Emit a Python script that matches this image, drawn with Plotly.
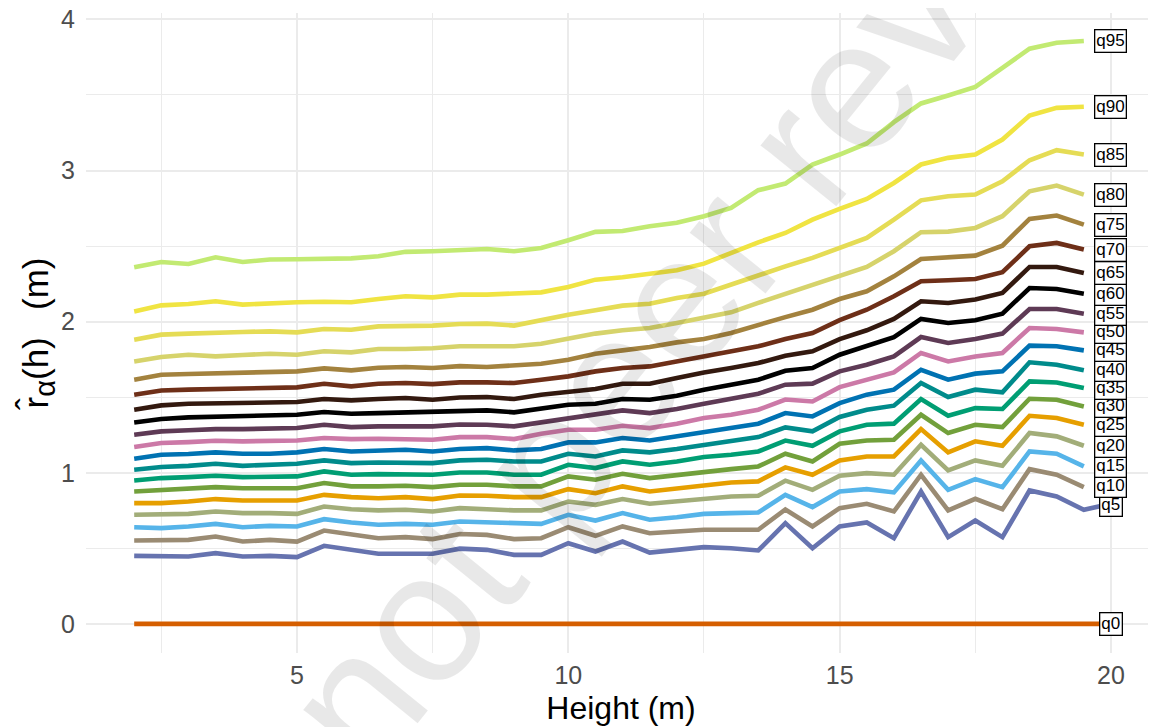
import plotly.graph_objects as go

# ---------------- data ----------------
heights = [2.0, 2.5, 3.0, 3.5, 4.0, 4.5, 5.0, 5.5, 6.0, 6.5, 7.0, 7.5, 8.0, 8.5, 9.0, 9.5,
           10.0, 10.5, 11.0, 11.5, 12.0, 12.5, 13.0, 13.5, 14.0, 14.5, 15.0, 15.5, 16.0,
           16.5, 17.0, 17.5, 18.0, 18.5, 19.0, 19.5, 20.0]

q0 = [0, 0, 0, 0, 0, 0, 0, 0, 0, 0, 0, 0, 0, 0, 0, 0, 0, 0, 0, 0, 0, 0, 0, 0, 0, 0,
      0, 0, 0, 0, 0, 0, 0, 0, 0, 0, 0]
q5 = [0.450, 0.450, 0.446, 0.468, 0.446, 0.450, 0.442, 0.517, 0.490, 0.464, 0.464, 0.464, 0.498,
      0.490, 0.457, 0.457, 0.534, 0.479, 0.545, 0.472, 0.490, 0.508, 0.501, 0.486, 0.667,
      0.501, 0.645, 0.671, 0.567, 0.876, 0.574, 0.684, 0.574, 0.883, 0.843, 0.755, 0.795]
q10 = [0.552, 0.552, 0.556, 0.578, 0.545, 0.556, 0.545, 0.618, 0.589, 0.567, 0.574, 0.561, 0.595,
       0.589, 0.561, 0.567, 0.640, 0.583, 0.645, 0.600, 0.611, 0.623, 0.623, 0.623, 0.757,
       0.645, 0.766, 0.795, 0.744, 0.987, 0.751, 0.828, 0.759, 1.024, 0.987, 0.905]
q15 = [0.640, 0.634, 0.645, 0.662, 0.640, 0.649, 0.645, 0.693, 0.671, 0.656, 0.662, 0.656, 0.678,
       0.671, 0.662, 0.662, 0.722, 0.684, 0.733, 0.689, 0.706, 0.728, 0.733, 0.737, 0.854,
       0.773, 0.876, 0.892, 0.870, 1.082, 0.887, 0.958, 0.905, 1.141, 1.126, 1.042]
q20 = [0.722, 0.722, 0.728, 0.744, 0.733, 0.733, 0.728, 0.777, 0.759, 0.751, 0.755, 0.744, 0.766,
       0.759, 0.751, 0.751, 0.810, 0.788, 0.826, 0.795, 0.810, 0.832, 0.843, 0.848, 0.948,
       0.887, 0.980, 0.998, 0.987, 1.185, 1.016, 1.082, 1.046, 1.263, 1.241, 1.179]
q25 = [0.799, 0.799, 0.810, 0.826, 0.817, 0.817, 0.817, 0.854, 0.839, 0.832, 0.839, 0.826, 0.850,
       0.848, 0.839, 0.839, 0.892, 0.865, 0.910, 0.876, 0.898, 0.921, 0.936, 0.943, 1.036,
       0.987, 1.082, 1.108, 1.108, 1.289, 1.135, 1.208, 1.179, 1.377, 1.362, 1.318]
q30 = [0.876, 0.887, 0.892, 0.905, 0.898, 0.898, 0.898, 0.932, 0.910, 0.910, 0.914, 0.905, 0.921,
       0.921, 0.910, 0.910, 0.976, 0.954, 0.993, 0.965, 0.987, 1.009, 1.024, 1.042, 1.126,
       1.075, 1.192, 1.214, 1.219, 1.384, 1.263, 1.318, 1.302, 1.490, 1.483, 1.439]
q35 = [0.949, 0.965, 0.971, 0.980, 0.971, 0.971, 0.976, 1.009, 0.987, 0.991, 0.991, 0.987, 1.002,
       1.002, 0.987, 0.987, 1.053, 1.031, 1.075, 1.053, 1.075, 1.104, 1.119, 1.141, 1.213,
       1.179, 1.274, 1.318, 1.325, 1.488, 1.377, 1.428, 1.422, 1.605, 1.598, 1.561]
q40 = [1.020, 1.038, 1.046, 1.060, 1.046, 1.053, 1.060, 1.082, 1.064, 1.068, 1.068, 1.064, 1.082,
       1.086, 1.075, 1.075, 1.126, 1.108, 1.148, 1.135, 1.157, 1.185, 1.208, 1.236, 1.300,
       1.274, 1.369, 1.417, 1.444, 1.594, 1.501, 1.550, 1.532, 1.731, 1.715, 1.678]
q45 = [1.093, 1.119, 1.124, 1.135, 1.126, 1.126, 1.135, 1.157, 1.141, 1.148, 1.152, 1.141, 1.157,
       1.163, 1.148, 1.157, 1.201, 1.201, 1.230, 1.214, 1.241, 1.274, 1.296, 1.325, 1.395,
       1.373, 1.461, 1.517, 1.550, 1.682, 1.616, 1.656, 1.671, 1.841, 1.837, 1.810]
q50 = [1.170, 1.197, 1.203, 1.212, 1.208, 1.208, 1.214, 1.230, 1.223, 1.225, 1.223, 1.219, 1.236,
       1.236, 1.223, 1.258, 1.285, 1.285, 1.311, 1.296, 1.325, 1.362, 1.384, 1.417, 1.485,
       1.472, 1.567, 1.616, 1.664, 1.793, 1.737, 1.770, 1.793, 1.958, 1.951, 1.929]
q55 = [1.252, 1.274, 1.281, 1.289, 1.289, 1.291, 1.296, 1.318, 1.302, 1.307, 1.307, 1.307, 1.320,
       1.318, 1.307, 1.333, 1.362, 1.384, 1.413, 1.395, 1.422, 1.457, 1.488, 1.523, 1.583,
       1.590, 1.671, 1.715, 1.770, 1.898, 1.859, 1.885, 1.921, 2.084, 2.084, 2.053]
q60 = [1.333, 1.356, 1.367, 1.373, 1.377, 1.382, 1.384, 1.402, 1.391, 1.395, 1.400, 1.400, 1.410,
       1.413, 1.400, 1.428, 1.450, 1.457, 1.488, 1.483, 1.510, 1.550, 1.583, 1.616, 1.675,
       1.693, 1.781, 1.837, 1.898, 2.018, 1.991, 2.009, 2.053, 2.223, 2.216, 2.185]
q65 = [1.417, 1.446, 1.457, 1.461, 1.461, 1.466, 1.468, 1.488, 1.479, 1.488, 1.495, 1.483, 1.498,
       1.501, 1.488, 1.517, 1.539, 1.554, 1.589, 1.589, 1.627, 1.664, 1.693, 1.726, 1.775,
       1.804, 1.885, 1.943, 2.018, 2.135, 2.124, 2.146, 2.190, 2.362, 2.362, 2.322]
q70 = [1.517, 1.545, 1.550, 1.554, 1.554, 1.559, 1.565, 1.589, 1.572, 1.589, 1.594, 1.587, 1.598,
       1.598, 1.594, 1.616, 1.638, 1.671, 1.693, 1.704, 1.737, 1.775, 1.804, 1.837, 1.885,
       1.925, 2.010, 2.079, 2.168, 2.267, 2.274, 2.282, 2.327, 2.499, 2.521, 2.477]
q75 = [1.616, 1.649, 1.654, 1.660, 1.660, 1.669, 1.671, 1.691, 1.678, 1.695, 1.700, 1.693, 1.706,
       1.700, 1.709, 1.722, 1.748, 1.788, 1.810, 1.832, 1.863, 1.885, 1.925, 1.980, 2.030,
       2.079, 2.150, 2.201, 2.300, 2.415, 2.426, 2.437, 2.503, 2.680, 2.702, 2.642]
q80 = [1.737, 1.766, 1.781, 1.770, 1.779, 1.788, 1.781, 1.804, 1.797, 1.819, 1.819, 1.824, 1.837,
       1.837, 1.837, 1.854, 1.885, 1.921, 1.943, 1.958, 1.991, 2.024, 2.062, 2.124, 2.185,
       2.245, 2.300, 2.362, 2.466, 2.592, 2.596, 2.620, 2.698, 2.863, 2.901, 2.841]
q85 = [1.881, 1.914, 1.921, 1.929, 1.932, 1.936, 1.929, 1.951, 1.947, 1.969, 1.969, 1.974, 1.985,
       1.987, 1.974, 2.013, 2.046, 2.075, 2.106, 2.119, 2.157, 2.185, 2.245, 2.311, 2.366,
       2.422, 2.488, 2.554, 2.675, 2.803, 2.830, 2.841, 2.929, 3.068, 3.135, 3.106]
q90 = [2.068, 2.108, 2.117, 2.135, 2.113, 2.124, 2.128, 2.132, 2.128, 2.150, 2.168, 2.161, 2.179,
       2.179, 2.183, 2.194, 2.230, 2.278, 2.294, 2.318, 2.340, 2.384, 2.455, 2.525, 2.587,
       2.675, 2.746, 2.812, 2.918, 3.040, 3.084, 3.106, 3.205, 3.364, 3.415, 3.422]
q95 = [2.360, 2.395, 2.382, 2.426, 2.395, 2.411, 2.413, 2.419, 2.419, 2.433, 2.462, 2.466, 2.472,
       2.481, 2.466, 2.488, 2.539, 2.594, 2.600, 2.631, 2.654, 2.698, 2.753, 2.870, 2.914,
       3.040, 3.106, 3.179, 3.320, 3.444, 3.497, 3.554, 3.680, 3.806, 3.846, 3.857]

series_names = ["q0", "q5", "q10", "q15", "q20", "q25", "q30", "q35", "q40", "q45", "q50",
                "q55", "q60", "q65", "q70", "q75", "q80", "q85", "q90", "q95"]
series_values = [q0, q5, q10, q15, q20, q25, q30, q35, q40, q45, q50,
                 q55, q60, q65, q70, q75, q80, q85, q90, q95]
colors = ["#D55E00", "#6673AF", "#9A8B73", "#56B4E9", "#A2AD79", "#E69F00", "#72A03B",
          "#009E73", "#008B8B", "#0072B2", "#CC79A7", "#5E3A55", "#000000", "#33190F",
          "#6E2F18", "#A3823E", "#D6D36B", "#E5DC55", "#F0E442", "#C2EA72"]

x_ticks = [5, 10, 15, 20]
y_ticks = [0, 1, 2, 3, 4]
label_x = 20.0

# ---------------- figure ----------------
fig = go.Figure()
for name, vals, col in zip(series_names, series_values, colors):
    fig.add_trace(go.Scatter(x=heights[:len(vals)], y=vals, mode="lines", name=name,
                             line=dict(color=col, width=4.6), showlegend=False,
                             hoverinfo="skip"))

# simple label repel (isotonic spacing) in data units
ends = [(vals[-1], name) for name, vals in zip(series_names, series_values)]
ends.sort()
gap = 0.12
z = [v - i * gap for i, (v, _) in enumerate(ends)]
blocks = []  # [sum, count]
for val in z:
    blocks.append([val, 1])
    while len(blocks) > 1 and blocks[-2][0] / blocks[-2][1] > blocks[-1][0] / blocks[-1][1]:
        s, c = blocks.pop()
        blocks[-1][0] += s
        blocks[-1][1] += c
zfit = []
for s, c in blocks:
    zfit += [s / c] * c
label_pos = {name: zfit[i] + i * gap for i, (_, name) in enumerate(ends)}
label_pos["q0"] = 0.0

annotations = []
for name in series_names:
    annotations.append(dict(x=label_x, y=label_pos[name], xref="x", yref="y", text=name,
                            showarrow=False, xanchor="center", yanchor="middle",
                            font=dict(family="Liberation Sans, Arial", size=17, color="black"),
                            bgcolor="white", bordercolor="black", borderwidth=1.3,
                            borderpad=1))

# watermark
annotations.append(dict(x=0.650, y=0.752, xref="paper", yref="paper",
                        text="not peer reviewed", showarrow=False, textangle=-51,
                        xanchor="center", yanchor="middle",
                        font=dict(family="Liberation Sans, Arial", size=184,
                                  color="rgba(0,0,0,0.09)")))

grid = "#ebebeb"
fig.update_layout(
    width=1156, height=727,
    margin=dict(l=78, r=8, t=5, b=82),
    paper_bgcolor="white", plot_bgcolor="white",
    font=dict(family="Liberation Sans, Arial", color="#4d4d4d"),
    annotations=annotations,
    xaxis=dict(range=[1.112, 20.83], tickvals=x_ticks, showgrid=True, gridcolor=grid,
               gridwidth=1.6, zeroline=False, showline=False,
               ticks="outside", ticklen=0, tickcolor="rgba(0,0,0,0)",
               tickfont=dict(size=25, color="#4d4d4d"), ticklabeloverflow="allow",
               minor=dict(dtick=2.5, tick0=0, showgrid=True, gridcolor=grid, gridwidth=0.8),
               title=dict(text="Height (m)", font=dict(size=32, color="black"), standoff=8),
               automargin=False),
    yaxis=dict(range=[-0.1925, 4.0425], tickvals=y_ticks, showgrid=True, gridcolor=grid,
               gridwidth=1.6, zeroline=False, showline=False,
               ticks="outside", ticklen=5, tickcolor="rgba(0,0,0,0)",
               tickfont=dict(size=25, color="#4d4d4d"), ticklabeloverflow="allow",
               minor=dict(dtick=0.5, tick0=0, showgrid=True, gridcolor=grid, gridwidth=0.8),
               title=dict(text="r\u0302<sub><span style='font-size:29px'>\u03b1</span></sub>"
                               "(h)\u2002\u00a0(m)",
                          font=dict(size=35, color="black"), standoff=0),
               automargin=False),
)

fig.write_html("out.html")
